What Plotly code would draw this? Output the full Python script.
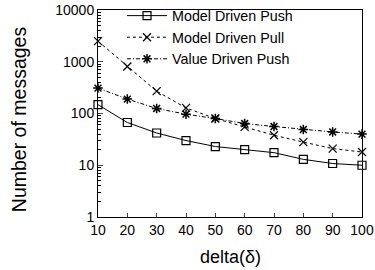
import plotly.graph_objects as go

delta = [10, 20, 30, 40, 50, 60, 70, 80, 90, 100]
model_push = [148, 67, 42, 30, 23, 20, 17.5, 13, 10.8, 10]
model_pull = [2500, 810, 270, 128, 80, 55, 38, 28, 21, 18]
value_push = [310, 190, 125, 97, 80, 64, 56, 49, 44, 40]

y_major = [1, 10, 100, 1000, 10000]
y_major_text = ["1", "10", "100", "1000", "10000"]
y_minor = [m * d for d in (1, 10, 100, 1000) for m in range(2, 10)]
x_tickvals = delta

FONT = "Liberation Sans, Arial, Helvetica, sans-serif"

fig = go.Figure()
fig.add_trace(go.Scatter(
    x=delta, y=model_push, name="Model Driven Push", mode="lines+markers",
    line=dict(color="black", width=1, dash="solid"),
    marker=dict(symbol="square-open", size=8, color="black", line=dict(width=1.2)),
    cliponaxis=False))
fig.add_trace(go.Scatter(
    x=delta, y=model_pull, name="Model Driven Pull", mode="lines+markers",
    line=dict(color="black", width=1, dash="dot"),
    marker=dict(symbol="x-thin-open", size=8, color="black", line=dict(width=1.2, color="black")),
    cliponaxis=False))
fig.add_trace(go.Scatter(
    x=delta, y=value_push, name="Value Driven Push", mode="lines+markers",
    line=dict(color="black", width=1, dash="4px,2px,1px,2px"),
    marker=dict(symbol="asterisk-open", size=8, color="black", line=dict(width=1.5, color="black")),
    cliponaxis=False))

fig.update_layout(
    width=375, height=270,
    margin=dict(l=98, r=13, t=10, b=53, autoexpand=False),
    paper_bgcolor="white", plot_bgcolor="white",
    font=dict(family=FONT, size=14, color="black"),
    showlegend=True,
    legend=dict(x=0.091, xanchor="left", y=0.868, yanchor="middle",
                bgcolor="rgba(0,0,0,0)", font=dict(size=14.3),
                tracegroupgap=0, itemwidth=40),
    annotations=[
        dict(text="delta(δ)", xref="paper", yref="paper", x=0.5, y=-0.192,
             xanchor="center", yanchor="middle", showarrow=False,
             font=dict(size=18)),
        dict(text="Number of messages", xref="paper", yref="paper", x=-0.299, y=0.473,
             xanchor="center", yanchor="middle", showarrow=False, textangle=-90,
             font=dict(size=19.5)),
    ],
)
fig.update_xaxes(
    range=[10, 100], tickvals=x_tickvals, ticks="inside", ticklen=4,
    showline=True, linecolor="black", linewidth=1, mirror=True, automargin=False,
    showgrid=False, zeroline=False, tickfont=dict(size=14),
)
fig.update_yaxes(
    type="log", range=[0, 4], tickvals=y_major, ticktext=y_major_text,
    ticks="inside", ticklen=5, automargin=False,
    minor=dict(ticks="inside", ticklen=3, tickmode="array", tickvals=y_minor,
               showgrid=False, tickcolor="black", tickwidth=1),
    showline=True, linecolor="black", linewidth=1, mirror=True,
    showgrid=False, zeroline=False, tickfont=dict(size=14),
)

fig.write_html("out.html", config={"displayModeBar": False},
               post_script="document.body.style.margin='0';")
